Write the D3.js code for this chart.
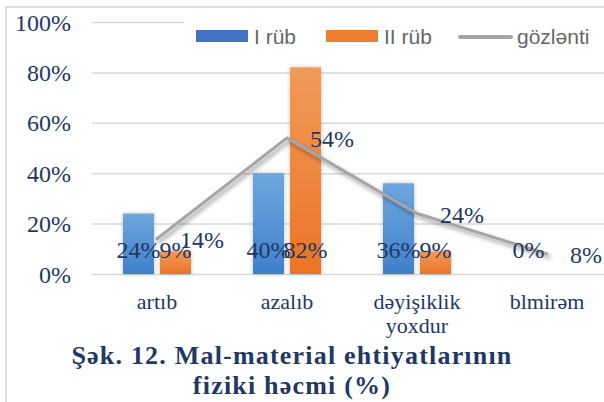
<!DOCTYPE html>
<html>
<head>
<meta charset="utf-8">
<script src="https://cdn.jsdelivr.net/npm/d3@7"></script>
<style>
  body { margin: 0; background: #fff; }
  svg { display: block; }
</style>
</head>
<body>
<div id="chart"></div>
<script>
var categories = ["artıb", "azalıb", "dəyişiklik yoxdur", "blmirəm"];
var catLines = [["artıb"], ["azalıb"], ["dəyişiklik", "yoxdur"], ["blmirəm"]];
var seriesNames = ["I rüb", "II rüb", "gözlənti"];
var rub1 = [24, 40, 36, 0];
var rub2 = [9, 82, 9, null];
var expect = [14, 54, 24, 8];
var yTicks = [0, 20, 40, 60, 80, 100];
var titleLines = ["Şək. 12. Mal-material ehtiyatlarının", "fiziki həcmi (%)"];

var svgWidth = 604, svgHeight = 402;
var navy = "#1f3864";
var serif = "'Liberation Serif', serif";

var svg = d3.select("#chart").append("svg")
  .attr("width", svgWidth)
  .attr("height", svgHeight);

// gradients + shadows
var defs = svg.append("defs");
function grad(id, top, bottom) {
  var g = defs.append("linearGradient").attr("id", id)
    .attr("x1", 0).attr("y1", 0).attr("x2", 0).attr("y2", 1);
  g.append("stop").attr("offset", "0%").attr("stop-color", top);
  g.append("stop").attr("offset", "100%").attr("stop-color", bottom);
}
grad("gBlue", "#6fa7de", "#3f80cb");
grad("gOrange", "#f29a5a", "#ea7425");

var sh = defs.append("filter").attr("id", "shadow")
  .attr("x", "-20%").attr("y", "-20%").attr("width", "140%").attr("height", "140%");
sh.append("feDropShadow").attr("dx", 2).attr("dy", 3)
  .attr("stdDeviation", 2.2).attr("flood-color", "#000").attr("flood-opacity", 0.4);

var barSh = defs.append("filter").attr("id", "barShadow")
  .attr("x", "-30%").attr("y", "-10%").attr("width", "160%").attr("height", "120%");
barSh.append("feDropShadow").attr("dx", 0).attr("dy", 0)
  .attr("stdDeviation", 2).attr("flood-color", "#000").attr("flood-opacity", 0.25);

// chart frame
svg.append("rect")
  .attr("x", 6).attr("y", 7)
  .attr("width", 700).attr("height", 500)
  .attr("fill", "none")
  .attr("stroke", "#d4d4d4")
  .attr("stroke-width", 1.5);

var x = d3.scaleBand().domain(categories).range([92, 612]);
var xs = d3.scaleBand().domain(["I rüb", "II rüb"])
  .range([x.bandwidth() / 2 - 34, x.bandwidth() / 2 + 34])
  .paddingInner(0.162);
var y = d3.scaleLinear().domain([0, 100]).range([274, 22]);

// y axis + gridlines
var yAxis = svg.append("g")
  .attr("transform", "translate(92,0)")
  .call(d3.axisLeft(y).tickValues(yTicks)
    .tickSize(-(612 - 92))
    .tickPadding(21)
    .tickFormat(function(d) { return d + "%"; }));
yAxis.attr("font-family", serif).attr("font-size", 24);
yAxis.select(".domain").remove();
yAxis.selectAll("line").attr("stroke", "#d9d9d9").attr("stroke-width", 1.5);
yAxis.selectAll("text")
  .attr("fill", navy)
  .attr("dy", "0.34em");

// bars
var barData = [];
categories.forEach(function(c, i) {
  barData.push({ cat: c, s: "I rüb", v: rub1[i], fill: "url(#gBlue)" });
  if (rub2[i] != null) barData.push({ cat: c, s: "II rüb", v: rub2[i], fill: "url(#gOrange)" });
});

svg.append("g").selectAll("rect")
  .data(barData.filter(function(d) { return d.v > 0; }))
  .enter().append("rect")
  .attr("x", function(d) { return x(d.cat) + xs(d.s); })
  .attr("y", function(d) { return y(d.v); })
  .attr("width", xs.bandwidth())
  .attr("height", function(d) { return y(0) - y(d.v); })
  .attr("fill", function(d) { return d.fill; })
  .attr("filter", "url(#barShadow)");

// line
var linePts = categories.map(function(c, i) {
  return [x(c) + x.bandwidth() / 2, y(expect[i])];
});
svg.append("path")
  .attr("d", d3.line()(linePts))
  .attr("fill", "none")
  .attr("stroke", "#a5a5a5")
  .attr("stroke-width", 3)
  .attr("stroke-linejoin", "round")
  .attr("stroke-linecap", "round")
  .attr("filter", "url(#shadow)");

// bar labels (inside base)
svg.append("g").selectAll("text")
  .data(barData)
  .enter().append("text")
  .attr("x", function(d) { return x(d.cat) + xs(d.s) + xs.bandwidth() / 2; })
  .attr("y", 258)
  .attr("text-anchor", "middle")
  .attr("fill", navy)
  .attr("font-family", serif)
  .attr("font-size", 24)
  .text(function(d) { return d.v + "%"; });

// line labels (right)
svg.append("g").selectAll("text")
  .data(linePts)
  .enter().append("text")
  .attr("x", function(d) { return d[0] + 23; })
  .attr("y", function(d) { return d[1] + 9.5; })
  .attr("fill", navy)
  .attr("font-family", serif)
  .attr("font-size", 24)
  .text(function(d, i) { return expect[i] + "%"; });

// category labels
var cat = svg.append("g").selectAll("text")
  .data(categories)
  .enter().append("text")
  .attr("x", function(d) { return x(d) + x.bandwidth() / 2; })
  .attr("y", 309)
  .attr("text-anchor", "middle")
  .attr("fill", navy)
  .attr("font-family", serif)
  .attr("font-size", 22);
cat.selectAll("tspan")
  .data(function(d, i) { return catLines[i]; })
  .enter().append("tspan")
  .attr("x", function() { return d3.select(this.parentNode).attr("x"); })
  .attr("dy", function(d, i) { return i === 0 ? 0 : 24; })
  .text(function(d) { return d; });

// legend
svg.append("rect")
  .attr("x", 184).attr("y", 14)
  .attr("width", 420).attr("height", 40)
  .attr("fill", "#fff");
var legX = [196, 326, 458];
var leg = svg.append("g");
seriesNames.forEach(function(n, i) {
  if (i < 2) {
    leg.append("rect")
      .attr("x", legX[i]).attr("y", 30)
      .attr("width", 52).attr("height", 12)
      .attr("fill", i === 0 ? "#4472c4" : "#ed7d31");
  } else {
    leg.append("line")
      .attr("x1", legX[i] + 2).attr("x2", legX[i] + 53)
      .attr("y1", 37).attr("y2", 37)
      .attr("stroke", "#a5a5a5").attr("stroke-width", 4)
      .attr("stroke-linecap", "round");
  }
  leg.append("text")
    .attr("x", legX[i] + (i < 2 ? 58 : 59))
    .attr("y", 44)
    .attr("fill", "#666666")
    .attr("font-family", "'Liberation Sans', sans-serif")
    .attr("font-size", 21)
    .text(n);
});

// title
svg.append("g").selectAll("text")
  .data(titleLines)
  .enter().append("text")
  .attr("x", 292)
  .attr("y", function(d, i) { return 364 + i * 30; })
  .attr("text-anchor", "middle")
  .attr("fill", navy)
  .attr("font-family", serif)
  .attr("font-weight", "bold")
  .attr("font-size", 26)
  .attr("letter-spacing", 1.2)
  .text(function(d) { return d; });
</script>
</body>
</html>
